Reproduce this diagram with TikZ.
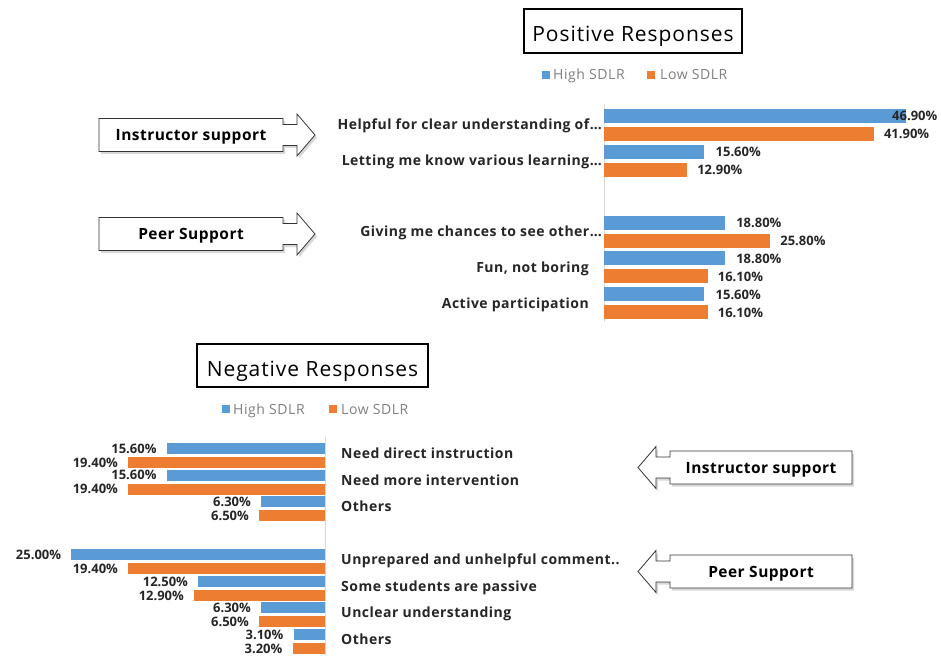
\documentclass[tikz,border=0pt]{standalone}
\usepackage{fontspec}
\setmainfont{Open Sans}
\newfontfamily\titfont{Open Sans}[LetterSpace=4.5]
\newfontfamily\legfont{Open Sans}[LetterSpace=4]
\newfontfamily\labfont{Open Sans}[LetterSpace=3.5]
\newfontfamily\bxfont{Open Sans}[LetterSpace=3]
\usetikzlibrary{shadows}
\definecolor{hi}{HTML}{5B9BD5}
\definecolor{lo}{HTML}{ED7D31}
\definecolor{txt}{HTML}{262626}
\definecolor{leg}{HTML}{808080}
\definecolor{axisc}{HTML}{D9D9D9}
\tikzset{
  titlebox/.style={draw=black, line width=1.8pt, fill=white},
  titletext/.style={font=\titfont\fontsize{21}{24}\selectfont, text=black, anchor=base, inner sep=0pt},
  legtext/.style={font=\legfont\fontsize{14}{16}\selectfont, text=leg, anchor=base west, inner sep=0pt},
  catlabE/.style={font=\labfont\bfseries\fontsize{14}{16}\selectfont, text=txt, anchor=base east, inner sep=0pt},
  catlabW/.style={font=\labfont\bfseries\fontsize{14}{16}\selectfont, text=txt, anchor=base west, inner sep=0pt},
  pctW/.style={font=\bfseries\fontsize{13}{15}\selectfont, text=txt, anchor=base west, inner sep=0pt},
  pctE/.style={font=\bfseries\fontsize{13}{15}\selectfont, text=txt, anchor=base east, inner sep=0pt},
  callout/.style={draw=black!80, line width=0.8pt, fill=white, drop shadow={shadow xshift=2pt, shadow yshift=-2.5pt, opacity=0.3}},
  boxtext/.style={font=\bxfont\bfseries\fontsize{15.5}{18}\selectfont, text=black, anchor=base, inner sep=0pt},
  axisline/.style={draw=axisc, line width=0.8pt},
}
\newcommand\CallR[3]{\path[callout] (#1,#3-16.5) -- (#2,#3-16.5) -- (#2,#3-10.5) -- (#2+14,#3-10.5) -- (#2+14,#3-21) -- (#2+32,#3) -- (#2+14,#3+21) -- (#2+14,#3+10.5) -- (#2,#3+10.5) -- (#2,#3+16.5) -- (#1,#3+16.5) -- cycle;}
\newcommand\CallL[3]{\path[callout] (#2,#3-16.5) -- (#1,#3-16.5) -- (#1,#3-10.5) -- (#1-14,#3-10.5) -- (#1-14,#3-21) -- (#1-32,#3) -- (#1-14,#3+21) -- (#1-14,#3+10.5) -- (#1,#3+10.5) -- (#1,#3+16.5) -- (#2,#3+16.5) -- cycle;}
\begin{document}
\begin{tikzpicture}[x=1pt,y=-1pt]
\path[use as bounding box, fill=white] (0,0) rectangle (941,655);

% ---------- Positive ----------
\draw[titlebox] (524,9) rectangle (742,53);
\node[titletext] (ptitle) at (633,41.5) {Positive Responses};
\fill[hi] (542,71) rectangle (550,79);
\node[legtext] (plegh) at (553,80) {High SDLR};
\fill[lo] (647,71) rectangle (655,79);
\node[legtext] (plegl) at (660,80) {Low SDLR};

\draw[axisline] (604,104) -- (604,322);
\foreach \c/\v/\t [count=\k] in {125/46.9/46.90, 160.6/15.6/15.60, 231.8/18.8/18.80, 267.4/18.8/18.80, 303/15.6/15.60}{
  \fill[hi] (604,\c-16) rectangle ({604+6.44*\v},\c-2);
  \pgfmathsetmacro\lx{min(604+6.44*\v+11,892)}
  \node[pctW] (ph\k) at (\lx,\c-9+5) {\t\%};
}
\foreach \c/\v/\t [count=\k] in {125/41.9/41.90, 160.6/12.9/12.90, 231.8/25.8/25.80, 267.4/16.1/16.10, 303/16.1/16.10}{
  \fill[lo] (604,\c+2) rectangle ({604+6.44*\v},\c+16);
  \node[pctW] (pl\k) at ({604+6.44*\v+10},\c+9+5) {\t\%};
}
\node[catlabE] (pc1) at (602,130) {Helpful for clear understanding of…};
\node[catlabE] (pc2) at (602,165.6) {Letting me know various learning…};
\node[catlabE] (pc3) at (602,236.8) {Giving me chances to see other…};
\node[catlabE] (pc4) at (589,272.4) {Fun, not boring};
\node[catlabE] (pc5) at (589,308) {Active participation};

\CallR{99}{283}{135}
\node[boxtext] (pinst) at (191,140.5) {Instructor support};
\CallR{99}{283}{234}
\node[boxtext] (ppeer) at (191,239.5) {Peer Support};

% ---------- Negative ----------
\draw[titlebox] (197,344) rectangle (428,387);
\node[titletext] (ntitle) at (312.5,376.5) {Negative Responses};
\fill[hi] (222,405) rectangle (230,413);
\node[legtext] (nlegh) at (233,414) {High SDLR};
\fill[lo] (329,405) rectangle (337,413);
\node[legtext] (nlegl) at (341,414) {Low SDLR};

\draw[axisline] (325,437) -- (325,655);
\foreach \c/\bv/\bt/\ov/\ot [count=\k] in {455.5/15.6/15.60/19.4/19.40, 482.1/15.6/15.60/19.4/19.40, 508.6/6.3/6.30/6.5/6.50, 561.8/25.0/25.00/19.4/19.40, 588.4/12.5/12.50/12.9/12.90, 614.9/6.3/6.30/6.5/6.50, 641.5/3.1/3.10/3.2/3.20}{
  \fill[hi] ({325-10.15*\bv},\c-12.5) rectangle (325,\c-1.5);
  \node[pctE] (nh\k) at ({325-10.15*\bv-10},\c-7+4.8) {\bt\%};
  \fill[lo] ({325-10.15*\ov},\c+1.5) rectangle (325,\c+12.5);
  \node[pctE] (nl\k) at ({325-10.15*\ov-10},\c+7+4.8) {\ot\%};
}
\node[catlabW] (nc1) at (341,458.5) {Need direct instruction};
\node[catlabW] (nc2) at (341,485.1) {Need more intervention};
\node[catlabW] (nc3) at (341,511.6) {Others};
\node[catlabW] (nc4) at (341,564.8) {Unprepared and unhelpful comment..};
\node[catlabW] (nc5) at (341,591.4) {Some students are passive};
\node[catlabW] (nc6) at (341,617.9) {Unclear understanding};
\node[catlabW] (nc7) at (341,644.5) {Others};

\CallL{670}{852}{467.5}
\node[boxtext] (ninst) at (761,473) {Instructor support};
\CallL{670}{852}{571.5}
\node[boxtext] (npeer) at (761,577) {Peer Support};
\end{tikzpicture}
\end{document}
